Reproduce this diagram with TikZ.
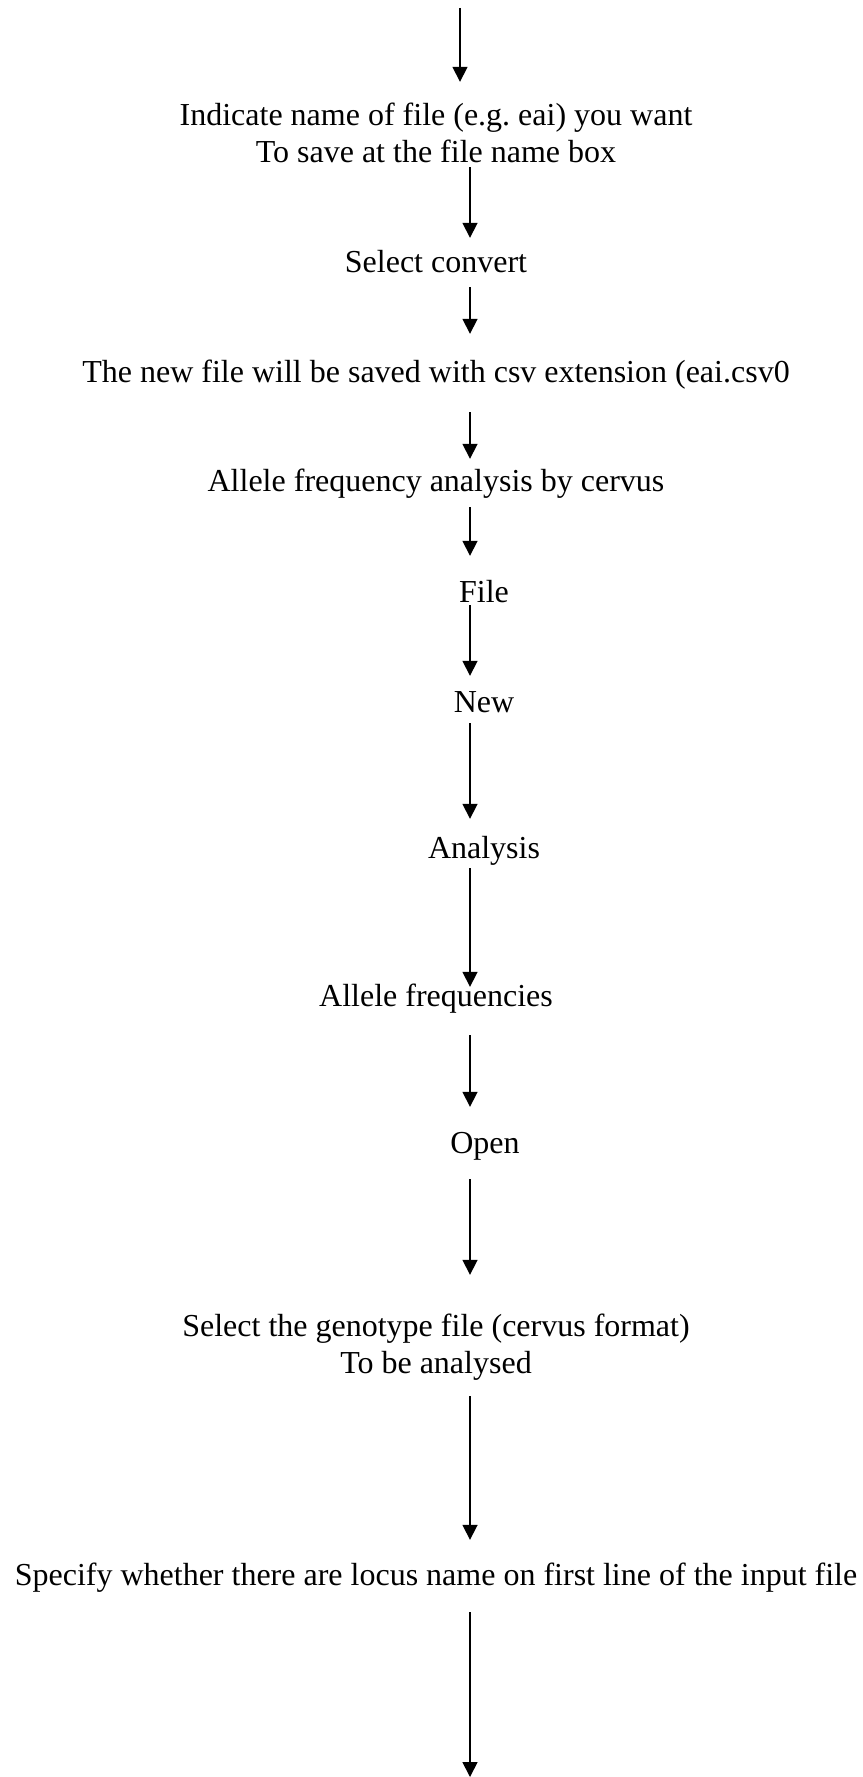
\documentclass[tikz,border=0pt]{standalone}
\usepackage{fontspec}
\setmainfont{Liberation Serif}
\usetikzlibrary{arrows.meta, positioning}

\begin{document}
\begin{tikzpicture}[
    x=1pt, y=-1pt,
    every node/.style={font=\fontsize{32}{37}\selectfont, inner sep=0pt, text height=22pt, text depth=7pt, anchor=base},
    twoline/.style={align=center, text height=59pt},
    flow/.style={-{Triangle[length=15pt, width=15pt]}, line width=1.7pt}
]
\useasboundingbox (0,0) rectangle (862,1777);

\node (ind) [twoline] at (436,162) {Indicate name of file (e.g.\ eai) you want\\To save at the file name box};
\node (sel) at (436,272) {Select convert};
\node (newf) at (436,382) {The new file will be saved with csv extension (eai.csv0};
\node (afa) at (436,491) {Allele frequency analysis by cervus};
\node (file) at (484,602) {File};
\node (new) at (484,712) {New};
\node (ana) at (484,858) {Analysis};
\node (af) at (436,1006) {Allele frequencies};
\node (open) at (485,1153) {Open};
\node (geno) [twoline] at (436,1373) {Select the genotype file (cervus format)\\To be analysed};
\node (spec) at (436,1585) {Specify whether there are locus name on first line of the input file};

\coordinate (start) at (460,8);
\coordinate (axis) at (470,0);
\coordinate (end) at (470,1777);

\draw[flow, shorten >=21pt] (start) -- (start |- ind.north);
\draw[flow, shorten <=-2pt, shorten >=12pt] (ind.south -| axis) -- (sel.north -| axis);
\draw[flow, shorten <=8pt, shorten >=26pt] (sel.south -| axis) -- (newf.north -| axis);
\draw[flow, shorten <=23pt, shorten >=10pt] (newf.south -| axis) -- (afa.north -| axis);
\draw[flow, shorten <=9pt, shorten >=24pt] (afa.south -| axis) -- (file.north -| axis);
\draw[flow, shorten <=-4pt, shorten >=14pt] (file.south -| axis) -- (new.north -| axis);
\draw[flow, shorten <=4pt, shorten >=17pt] (new.south -| axis) -- (ana.north -| axis);
\draw[flow, shorten <=3pt, shorten >=-3pt] (ana.south -| axis) -- (af.north -| axis);
\draw[flow, shorten <=22pt, shorten >=24pt] (af.south -| axis) -- (open.north -| axis);
\draw[flow, shorten <=19pt, shorten >=39pt] (open.south -| axis) -- (geno.north -| axis);
\draw[flow, shorten <=16pt, shorten >=23pt] (geno.south -| axis) -- (spec.north -| axis);
\draw[flow, shorten <=20pt] (spec.south -| axis) -- (end);
\end{tikzpicture}
\end{document}
